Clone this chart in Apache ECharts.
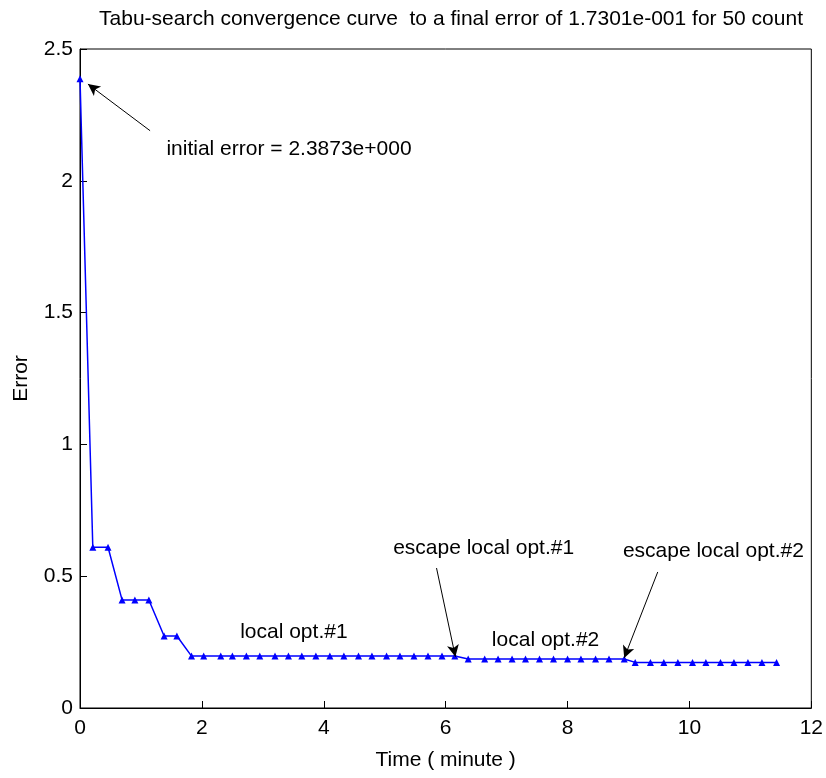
<!DOCTYPE html>
<html>
<head>
<meta charset="utf-8">
<script src="https://cdn.jsdelivr.net/npm/echarts@6/dist/echarts.min.js"></script>
<style>
  html, body { margin: 0; padding: 0; background: #fff; }
  #main { width: 826px; height: 778px; }
</style>
</head>
<body>
<div id="main"></div>
<script>
// 时间 (分钟) 和误差
var times = [0, 0.21, 0.46, 0.69, 0.90, 1.13, 1.38, 1.59,
  1.83, 2.03, 2.31, 2.50, 2.73, 2.95, 3.20, 3.42, 3.64, 3.87, 4.10, 4.33, 4.57, 4.79, 5.03, 5.25, 5.48, 5.71, 5.94, 6.15,
  6.37, 6.64, 6.86, 7.09, 7.31, 7.54, 7.77, 8.00, 8.22, 8.46, 8.68, 8.93,
  9.11, 9.36, 9.58, 9.81, 10.05, 10.27, 10.51, 10.73, 10.96, 11.19, 11.43];
var errors = [2.3873, 0.61, 0.61, 0.41, 0.41, 0.41, 0.273, 0.273,
  0.197, 0.197, 0.197, 0.197, 0.197, 0.197, 0.197, 0.197, 0.197, 0.197, 0.197, 0.197, 0.197, 0.197, 0.197, 0.197, 0.197, 0.197, 0.197, 0.197,
  0.186, 0.186, 0.186, 0.186, 0.186, 0.186, 0.186, 0.186, 0.186, 0.186, 0.186, 0.186,
  0.173, 0.173, 0.173, 0.173, 0.173, 0.173, 0.173, 0.173, 0.173, 0.173, 0.173];
var xTicks = [0, 2, 4, 6, 8, 10, 12];
var yTicks = [0, 0.5, 1, 1.5, 2, 2.5];

// 注释文字: [文字, 时间, 误差]
var notes = [
  ['initial error = 2.3873e+000', 1.41, 2.12],
  ['local opt.#1', 2.62, 0.288],
  ['escape local opt.#1', 5.13, 0.607],
  ['local opt.#2', 6.75, 0.258],
  ['escape local opt.#2', 8.90, 0.596]
];
// 箭头: [起点, 终点]
var arrows = [
  [[1.15, 2.19], [0.13, 2.367]],
  [[5.85, 0.531], [6.16, 0.194]],
  [[9.48, 0.516], [8.93, 0.19]]
];

var font = 'Liberation Sans';
var myChart = echarts.init(document.getElementById('main'));
var option = {
  animation: false,
  backgroundColor: '#fff',
  title: {
    text: 'Tabu-search convergence curve  to a final error of 1.7301e-001 for 50 count',
    left: 446, top: 4, textAlign: 'center',
    textStyle: { fontFamily: font, fontSize: 21, fontWeight: 'normal', color: '#000' }
  },
  grid: { left: 80, right: 14, top: 49, bottom: 70, show: true, borderColor: '#000', borderWidth: 1 },
  xAxis: {
    type: 'value', min: xTicks[0], max: xTicks[xTicks.length - 1], interval: 2,
    name: 'Time ( minute )', nameLocation: 'middle', nameGap: 42,
    nameTextStyle: { fontFamily: font, fontSize: 21, color: '#000' },
    axisLine: { lineStyle: { color: '#000', width: 1 } },
    axisTick: { inside: true, length: 7, lineStyle: { color: '#000' } },
    axisLabel: { fontFamily: font, fontSize: 21, color: '#000', margin: 10 },
    splitLine: { show: false }
  },
  yAxis: {
    type: 'value', min: yTicks[0], max: yTicks[yTicks.length - 1], interval: 0.5,
    name: 'Error', nameLocation: 'middle', nameGap: 48,
    nameTextStyle: { fontFamily: font, fontSize: 21, color: '#000' },
    axisLine: { show: true, lineStyle: { color: '#000', width: 1 } },
    axisTick: { show: true, inside: true, length: 7, lineStyle: { color: '#000' } },
    axisLabel: { fontFamily: font, fontSize: 21, color: '#000', margin: 7 },
    splitLine: { show: false }
  },
  series: [{
    type: 'line',
    data: times.map(function (t, i) { return [t, errors[i]]; }),
    color: '#0000ff',
    lineStyle: { color: '#0000ff', width: 1.5 },
    symbol: 'triangle', symbolSize: 7,
    itemStyle: { color: '#0000ff' },
    markLine: {
      silent: true,
      symbol: ['none', 'arrow'],
      symbolSize: [9, 12],
      lineStyle: { color: '#000', width: 1, type: 'solid' },
      label: { show: false },
      data: arrows.map(function (a) { return [{ coord: a[0] }, { coord: a[1] }]; })
    },
    markPoint: {
      silent: true,
      symbol: 'circle', symbolSize: 1,
      itemStyle: { color: 'rgba(0,0,0,0)' },
      label: {
        show: true, position: 'right', distance: 0,
        fontFamily: font, fontSize: 21, color: '#000',
        formatter: function (p) { return p.name; }
      },
      data: notes.map(function (n) { return { name: n[0], coord: [n[1], n[2]] }; })
    }
  }]
};
myChart.setOption(option);
</script>
</body>
</html>
